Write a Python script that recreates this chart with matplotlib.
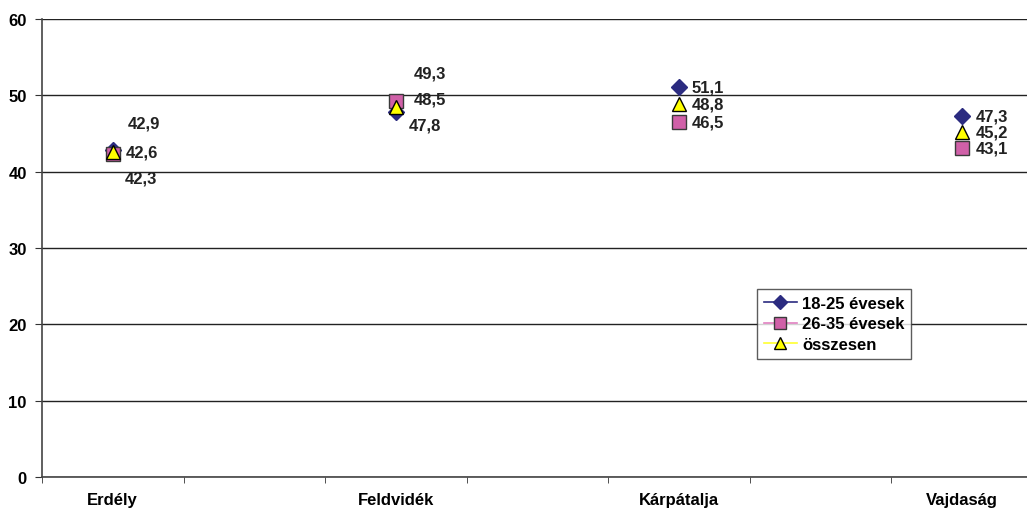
import matplotlib
matplotlib.use("Agg")
import matplotlib.pyplot as plt
from matplotlib.ticker import MultipleLocator

plt.rcParams['font.family'] = ['Liberation Sans', 'DejaVu Sans']
plt.rcParams['font.weight'] = 'bold'

# data
categories = ["Erdély", "Feldvidék", "Kárpátalja", "Vajdaság"]
series_names = ["18-25 évesek", "26-35 évesek", "összesen"]
young = [42.9, 47.8, 51.1, 47.3]
older = [42.3, 49.3, 46.5, 43.1]
total = [42.6, 48.5, 48.8, 45.2]

markers = ["D", "s", "^"]
face_colors = ["#2B2B80", "#D060A8", "#FFFF00"]
edge_colors = ["#2B2B80", "#3A3A3A", "#000000"]
line_colors = ["#2B2B80", "#E080C0", "#FFFF30"]
sizes = [8, 10, 10]

# label offsets (pixels) for each series and category, hand placed like in the original
label_dx = [[15, 13, 13, 14], [12, 18, 13, 14], [13, 18, 13, 14]]
label_dy = [[27, -13, 0, 0], [-24, 28, 0, 0], [0, 8, 0, 0]]

fig = plt.figure(figsize=(10.27, 5.10), dpi=100)
ax = fig.add_axes([42 / 1027, 32 / 510, 990.5 / 1027, 458 / 510])

xs = [i * 2 for i in range(len(categories))]
all_series = [young, older, total]
for k, vals in enumerate(all_series):
    ax.plot(xs, vals, linestyle="none", marker=markers[k], markersize=sizes[k],
            markerfacecolor=face_colors[k], markeredgecolor=edge_colors[k],
            markeredgewidth=1.0, zorder=3 + k)
    for i, v in enumerate(vals):
        ax.annotate(f"{v:.1f}".replace(".", ","), (xs[i], v),
                    xytext=(label_dx[k][i] * 0.72, label_dy[k][i] * 0.72),
                    textcoords="offset points", ha="left", va="center",
                    fontsize=12, fontweight="bold", color="#222222")

# legend handles with line through marker
handles = []
for k in range(3):
    h, = ax.plot([], [], color=line_colors[k], lw=1.2, marker=markers[k],
                 markersize=sizes[k] - 1, markerfacecolor=face_colors[k],
                 markeredgecolor=edge_colors[k])
    handles.append(h)
leg = fig.legend(handles, series_names, loc="upper left",
                 bbox_to_anchor=(757 / 1027, 1 - 290 / 510), borderaxespad=0,
                 frameon=True, fancybox=False, edgecolor="#333333",
                 prop={"size": 12, "weight": "bold"}, handlelength=2.0,
                 handletextpad=0.3, labelspacing=0.34, borderpad=0.4)
leg.get_frame().set_linewidth(1.0)

ax.set_ylim(0, 60)
ax.yaxis.set_major_locator(MultipleLocator(10))
ax.grid(axis="y", color="#222222", lw=1.0)
ax.set_axisbelow(True)

ax.set_xlim(-0.5, 6.5)
ax.set_xticks(xs)
ax.set_xticklabels(categories)
ax.set_xticks([i + 0.5 for i in range(-1, 7)], minor=True)
ax.tick_params(axis="x", which="major", length=0, pad=11, labelsize=12)
ax.tick_params(axis="x", which="minor", length=4, direction="out", color="#333333")
ax.tick_params(axis="y", length=5, direction="out", color="#333333", labelsize=12, pad=6)

for s in ["top", "right"]:
    ax.spines[s].set_visible(False)
ax.spines["left"].set_color("#444444")
ax.spines["bottom"].set_color("#444444")
ax.spines["left"].set_linewidth(1.2)
ax.spines["bottom"].set_linewidth(1.2)

fig.savefig("out.png", dpi=100)
